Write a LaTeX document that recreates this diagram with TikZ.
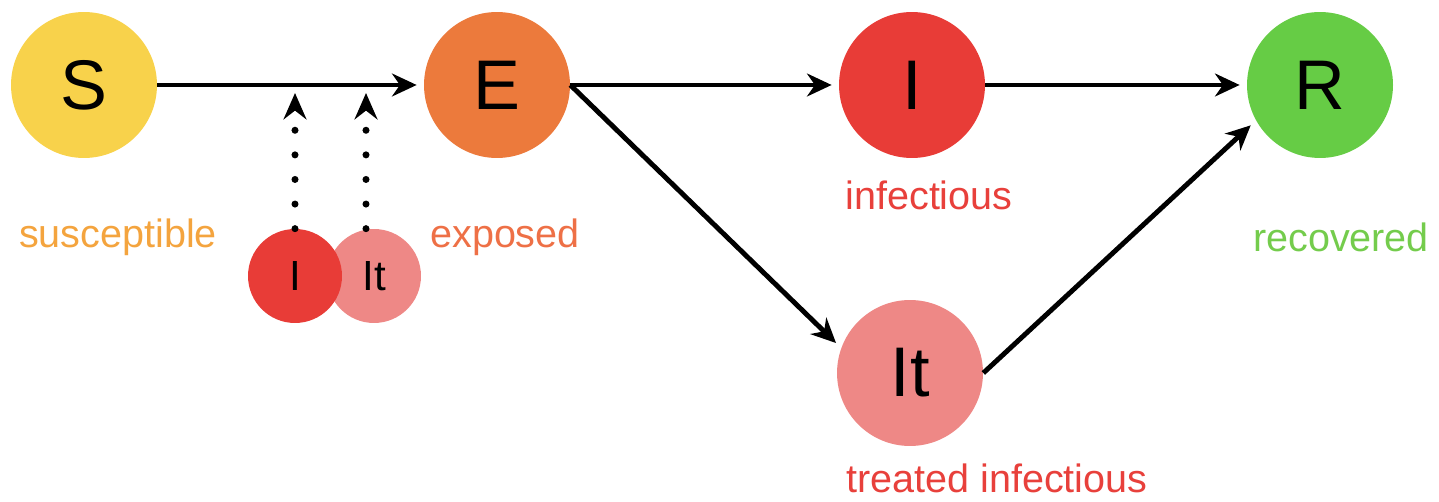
\documentclass[tikz,border=0pt]{standalone}
\usepackage{fontspec}
\setmainfont{Liberation Sans}
\usetikzlibrary{arrows.meta,positioning}
\definecolor{colS}{HTML}{F8D24B}
\definecolor{colE}{HTML}{EC7A3C}
\definecolor{colI}{HTML}{E83C37}
\definecolor{colIt}{HTML}{EE8886}
\definecolor{colR}{HTML}{66CC45}
\definecolor{txtS}{HTML}{F4A43E}
\definecolor{txtE}{HTML}{EE7046}
\definecolor{txtI}{HTML}{E8403B}
\definecolor{txtR}{HTML}{74CC4C}
\begin{document}
\begin{tikzpicture}[x=0.02cm,y=-0.02cm,
    state/.style={circle,minimum size=2.92cm,inner sep=0pt,font=\fontsize{40}{40}\selectfont},
    small/.style={circle,minimum size=1.88cm,inner sep=0pt,font=\fontsize{24}{24}\selectfont},
    tag/.style={font=\fontsize{22.5}{24}\selectfont},
    flow/.style={line width=2.8pt,-{Stealth[length=14pt,width=13pt,inset=4.5pt]},shorten >=4pt},
    dots/.style={line width=4pt,line cap=round,dash pattern=on 0pt off 14pt,
      -{Stealth[length=15pt,width=13pt,inset=5pt]}}]
    \useasboundingbox (0,0) rectangle (1439,502);
    \node[state,fill=colS] (S) at (84,85) {S};
    \node[state,fill=colE] (E) at (497,85) {E};
    \node[state,fill=colI] (I) at (912,85) {I};
    \node[state,fill=colR] (R) at (1320,85) {R};
    \node[state,fill=colIt] (It) at (910,373) {It};
    \node[small,fill=colIt] (smallIt) at (374,276) {It};
    \node[small,fill=colI] (smallI) at (295,276) {I};
    \node[tag,text=txtS] (labS) at (118,237) {susceptible};
    \node[tag,text=txtE] (labE) at (505,237) {exposed};
    \node[tag,text=txtI] (labI) at (929,195) {infectious};
    \node[tag,text=txtR] (labR) at (1341,237) {recovered};
    \node[tag,text=txtI] (labIt) at (997,478) {treated infectious};
    % flows between compartments
    \draw[flow] (S) -- (E);
    \draw[flow] (E) -- (I);
    \draw[flow] (I) -- (R);
    \draw[flow] (E.east) -- (It.160);
    \draw[flow,shorten <=0pt] (It.east) -- (R.209);
    % force of infection
    \coordinate (hitI) at (295,93);
    \coordinate (hitIt) at (366,93);
    \draw[dots] (smallI.north) -- (hitI);
    \draw[dots] (smallIt.north -| hitIt) -- (hitIt);
\end{tikzpicture}
\end{document}
